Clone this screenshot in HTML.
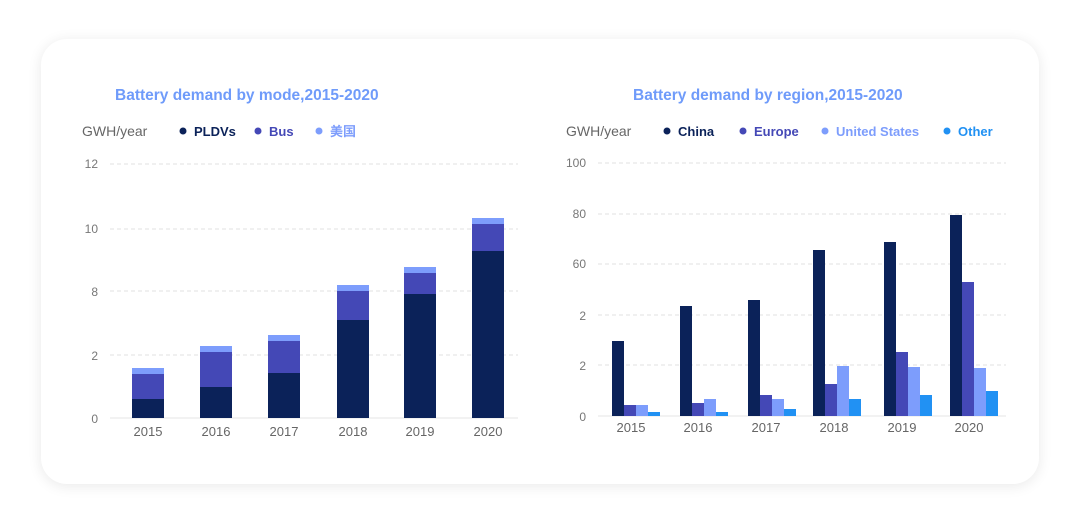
<!DOCTYPE html><html><head><style>
body{margin:0;background:#fff;width:1080px;height:527px;overflow:hidden;font-family:"Liberation Sans","Noto Sans CJK SC",sans-serif}
.card{position:absolute;left:41px;top:39px;width:998px;height:445px;background:#fff;border-radius:26px;box-shadow:0 2px 14px rgba(0,0,0,0.09)}
</style></head><body><div class="card"></div>
<svg width="1080" height="527" style="position:absolute;left:0;top:0" font-family="Liberation Sans, Noto Sans CJK SC, sans-serif">
<g font-weight="bold" font-size="15.5" fill="#6f9bfa">
<text x="115" y="100">Battery demand by mode,2015-2020</text>
<text x="633" y="100">Battery demand by region,2015-2020</text></g>
<g font-size="14" fill="#666"><text x="82" y="136">GWH/year</text><text x="566" y="136">GWH/year</text></g>
<g font-size="13" font-weight="bold">
<circle cx="183" cy="131" r="3.5" fill="#0b2259"/><text x="194" y="136" fill="#0b2259">PLDVs</text>
<circle cx="258" cy="131" r="3.5" fill="#4448b6"/><text x="269" y="136" fill="#4448b6">Bus</text>
<circle cx="319" cy="131" r="3.5" fill="#7d9dfc"/><text x="330" y="136" fill="#7d9dfc">美国</text>
<circle cx="667" cy="131" r="3.5" fill="#0b2259"/><text x="678" y="136" fill="#0b2259">China</text>
<circle cx="743" cy="131" r="3.5" fill="#4448b6"/><text x="754" y="136" fill="#4448b6">Europe</text>
<circle cx="825" cy="131" r="3.5" fill="#7d9dfc"/><text x="836" y="136" fill="#7d9dfc">United States</text>
<circle cx="947" cy="131" r="3.5" fill="#2191f3"/><text x="958" y="136" fill="#2191f3">Other</text></g>
<g stroke="#e2e2e2" stroke-dasharray="4,3">
<line x1="110" x2="518" y1="164" y2="164"/><line x1="110" x2="518" y1="229" y2="229"/><line x1="110" x2="518" y1="291" y2="291"/><line x1="110" x2="518" y1="355" y2="355"/>
<line x1="598" x2="1006" y1="163" y2="163"/><line x1="598" x2="1006" y1="214" y2="214"/><line x1="598" x2="1006" y1="264" y2="264"/><line x1="598" x2="1006" y1="315" y2="315"/><line x1="598" x2="1006" y1="365" y2="365"/></g>
<line x1="110" x2="518" y1="418" y2="418" stroke="#e6e6e6"/><line x1="598" x2="1006" y1="416" y2="416" stroke="#e6e6e6"/>
<g font-size="12" fill="#777" text-anchor="end">
<text x="98" y="168">12</text><text x="98" y="233">10</text><text x="98" y="296">8</text><text x="98" y="360">2</text><text x="98" y="423">0</text>
<text x="586" y="167">100</text><text x="586" y="218">80</text><text x="586" y="268">60</text><text x="586" y="320">2</text><text x="586" y="370">2</text><text x="586" y="421">0</text></g>
<g font-size="13" fill="#666" text-anchor="middle">
<text x="148" y="436">2015</text><text x="216" y="436">2016</text><text x="284" y="436">2017</text><text x="353" y="436">2018</text><text x="420" y="436">2019</text><text x="488" y="436">2020</text>
<text x="631" y="432">2015</text><text x="698" y="432">2016</text><text x="766" y="432">2017</text><text x="834" y="432">2018</text><text x="902" y="432">2019</text><text x="969" y="432">2020</text></g>
<g>
<rect x="132" y="368" width="32" height="6" fill="#7d9dfc"/><rect x="132" y="374" width="32" height="25" fill="#4448b6"/><rect x="132" y="399" width="32" height="19" fill="#0b2259"/>
<rect x="200" y="346" width="32" height="6" fill="#7d9dfc"/><rect x="200" y="352" width="32" height="35" fill="#4448b6"/><rect x="200" y="387" width="32" height="31" fill="#0b2259"/>
<rect x="268" y="335" width="32" height="6" fill="#7d9dfc"/><rect x="268" y="341" width="32" height="32" fill="#4448b6"/><rect x="268" y="373" width="32" height="45" fill="#0b2259"/>
<rect x="337" y="285" width="32" height="6" fill="#7d9dfc"/><rect x="337" y="291" width="32" height="29" fill="#4448b6"/><rect x="337" y="320" width="32" height="98" fill="#0b2259"/>
<rect x="404" y="267" width="32" height="6" fill="#7d9dfc"/><rect x="404" y="273" width="32" height="21" fill="#4448b6"/><rect x="404" y="294" width="32" height="124" fill="#0b2259"/>
<rect x="472" y="218" width="32" height="6" fill="#7d9dfc"/><rect x="472" y="224" width="32" height="27" fill="#4448b6"/><rect x="472" y="251" width="32" height="167" fill="#0b2259"/>
</g>
<g>
<rect x="612" y="341" width="12" height="75" fill="#0b2259"/><rect x="624" y="405" width="12" height="11" fill="#4448b6"/><rect x="636" y="405" width="12" height="11" fill="#7d9dfc"/><rect x="648" y="412" width="12" height="4" fill="#2191f3"/>
<rect x="680" y="306" width="12" height="110" fill="#0b2259"/><rect x="692" y="403" width="12" height="13" fill="#4448b6"/><rect x="704" y="399" width="12" height="17" fill="#7d9dfc"/><rect x="716" y="412" width="12" height="4" fill="#2191f3"/>
<rect x="748" y="300" width="12" height="116" fill="#0b2259"/><rect x="760" y="395" width="12" height="21" fill="#4448b6"/><rect x="772" y="399" width="12" height="17" fill="#7d9dfc"/><rect x="784" y="409" width="12" height="7" fill="#2191f3"/>
<rect x="813" y="250" width="12" height="166" fill="#0b2259"/><rect x="825" y="384" width="12" height="32" fill="#4448b6"/><rect x="837" y="366" width="12" height="50" fill="#7d9dfc"/><rect x="849" y="399" width="12" height="17" fill="#2191f3"/>
<rect x="884" y="242" width="12" height="174" fill="#0b2259"/><rect x="896" y="352" width="12" height="64" fill="#4448b6"/><rect x="908" y="367" width="12" height="49" fill="#7d9dfc"/><rect x="920" y="395" width="12" height="21" fill="#2191f3"/>
<rect x="950" y="215" width="12" height="201" fill="#0b2259"/><rect x="962" y="282" width="12" height="134" fill="#4448b6"/><rect x="974" y="368" width="12" height="48" fill="#7d9dfc"/><rect x="986" y="391" width="12" height="25" fill="#2191f3"/>
</g>
</svg></body></html>
